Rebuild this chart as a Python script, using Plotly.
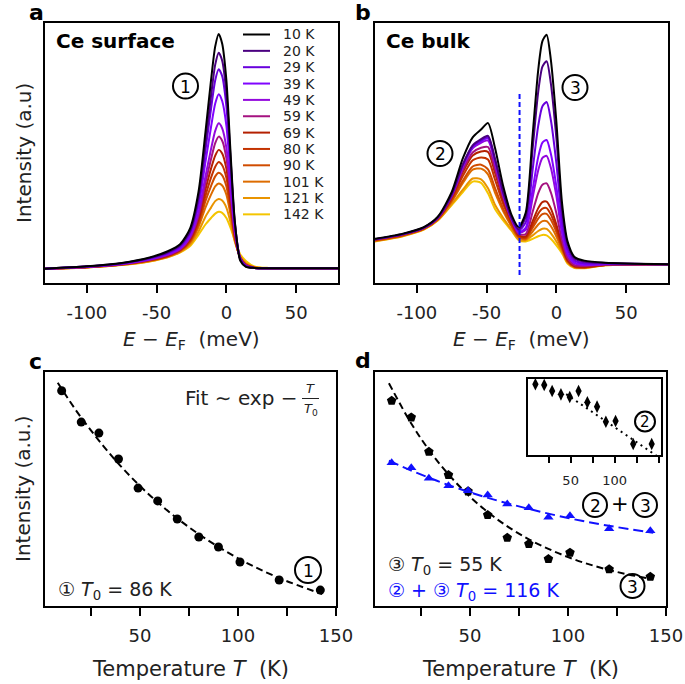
import plotly.graph_objects as go

W, H = 685, 684
FONT = "DejaVu Sans"

# ---------------- data ----------------
TEMPS = [10, 20, 29, 39, 49, 59, 69, 80, 90, 101, 121, 142]
TEMP_LABELS = ["10 K", "20 K", "29 K", "39 K", "49 K", "59 K", "69 K", "80 K", "90 K", "101 K", "121 K", "142 K"]

# panel a: Ce surface spectra (intensity, arbitrary units)
E_SURF = [-130, -100, -75, -55, -42, -33, -26, -20, -15, -11, -8, -5.5, -3, 0, 3, 6, 10, 14, 20, 30, 80]
surf_10K = [.055, .064, .077, .098, .122, .150, .210, .350, .580, .780, .910, .958, .920, .780, .500, .240, .085, .062, .058, .057, .057]
surf_20K = [.055, .064, .076, .096, .118, .145, .200, .330, .540, .720, .840, .886, .855, .730, .480, .235, .090, .064, .058, .057, .057]
surf_29K = [.055, .063, .075, .094, .115, .141, .195, .315, .510, .670, .780, .822, .795, .680, .455, .230, .092, .065, .058, .057, .057]
surf_39K = [.055, .063, .074, .092, .112, .137, .188, .295, .465, .600, .690, .726, .700, .605, .410, .215, .093, .066, .058, .057, .057]
surf_49K = [.055, .062, .073, .090, .109, .132, .178, .270, .410, .515, .585, .614, .595, .520, .360, .200, .093, .067, .058, .057, .057]
surf_59K = [.055, .062, .072, .089, .107, .130, .173, .258, .385, .477, .538, .563, .547, .480, .340, .193, .094, .068, .058, .057, .057]
surf_69K = [.055, .062, .072, .088, .106, .128, .168, .245, .360, .440, .490, .512, .498, .440, .318, .186, .095, .069, .059, .057, .057]
surf_80K = [.055, .061, .071, .087, .104, .126, .163, .235, .335, .405, .447, .465, .453, .405, .297, .180, .096, .070, .059, .057, .057]
surf_90K = [.055, .061, .071, .086, .103, .124, .159, .225, .315, .373, .410, .424, .414, .372, .280, .174, .097, .071, .060, .057, .057]
surf_101K = [.055, .061, .070, .085, .102, .122, .155, .215, .290, .340, .372, .383, .375, .340, .262, .168, .098, .073, .060, .057, .057]
surf_121K = [.055, .060, .070, .084, .100, .120, .148, .198, .255, .290, .315, .323, .317, .290, .233, .160, .103, .077, .061, .057, .057]
surf_142K = [.055, .060, .069, .083, .099, .118, .142, .185, .225, .250, .267, .274, .270, .250, .212, .165, .110, .085, .064, .058, .057]

# panel b: Ce bulk spectra
E_BULK = [-130, -110, -95, -85, -75, -67, -60, -54, -49, -44, -38, -32, -27, -22, -17, -13, -10, -7, -4, 0, 4, 8, 13, 20, 35, 80]
bulk_10K = [.170, .190, .215, .255, .350, .480, .560, .590, .615, .520, .370, .260, .215, .270, .570, .820, .930, .955, .860, .620, .310, .160, .100, .086, .078, .072]
bulk_20K = [.168, .188, .213, .252, .341, .457, .529, .553, .566, .478, .347, .249, .207, .255, .517, .736, .832, .853, .769, .557, .284, .149, .094, .082, .077, .072]
bulk_29K = [.168, .188, .213, .252, .340, .454, .526, .549, .561, .473, .344, .248, .202, .233, .436, .605, .680, .696, .628, .460, .244, .131, .086, .076, .075, .072]
bulk_39K = [.168, .188, .213, .252, .339, .451, .523, .545, .556, .468, .341, .247, .196, .212, .360, .485, .540, .550, .498, .371, .208, .115, .078, .071, .073, .072]
bulk_49K = [.168, .188, .212, .251, .338, .448, .518, .539, .548, .461, .338, .245, .194, .204, .329, .434, .481, .489, .444, .334, .192, .109, .075, .069, .072, .072]
bulk_59K = [.167, .187, .212, .250, .333, .436, .502, .520, .523, .440, .326, .240, .188, .188, .274, .346, .378, .383, .349, .268, .165, .097, .069, .065, .071, .072]
bulk_69K = [.166, .186, .211, .249, .330, .427, .490, .506, .504, .424, .317, .235, .184, .179, .238, .288, .311, .313, .287, .225, .148, .089, .065, .062, .070, .072]
bulk_80K = [.165, .185, .210, .247, .324, .412, .472, .483, .475, .398, .302, .229, .180, .175, .224, .267, .286, .288, .264, .210, .142, .087, .064, .061, .069, .072]
bulk_90K = [.163, .183, .208, .245, .317, .394, .448, .455, .437, .365, .284, .220, .176, .172, .213, .248, .265, .266, .244, .196, .136, .084, .062, .060, .069, .072]
bulk_101K = [.163, .183, .208, .244, .314, .385, .436, .440, .418, .348, .275, .216, .174, .168, .198, .225, .238, .238, .219, .179, .129, .081, .061, .059, .069, .072]
bulk_121K = [.161, .181, .206, .241, .304, .359, .402, .399, .364, .301, .249, .204, .167, .164, .183, .200, .209, .208, .192, .160, .121, .078, .059, .058, .068, .072]
bulk_142K = [.160, .180, .205, .240, .300, .350, .390, .385, .345, .285, .240, .200, .165, .160, .170, .180, .185, .183, .170, .145, .115, .075, .058, .057, .068, .072]

DIP_E = [-26.4, -26.4]
DIP_Y = [0.031, 0.735]

# panel c: peak 1 intensity vs T
INT_PEAK1 = [0.920, 0.786, 0.739, 0.628, 0.504, 0.449, 0.372, 0.295, 0.252, 0.188, 0.111, 0.068]
FIT1_T = [8, 20, 40, 60, 80, 100, 120, 143]
FIT1_Y = [0.954, 0.805, 0.599, 0.436, 0.307, 0.204, 0.123, 0.051]

# panel d: peak 3 and peak 2+3 intensities vs T, inset peak 2
INT_PEAK3 = [0.877, 0.806, 0.659, 0.560, 0.490, 0.389, 0.292, 0.265, 0.201, 0.228, 0.157, 0.125]
INT_PEAK23 = [0.612, 0.591, 0.546, 0.514, 0.493, 0.474, 0.436, 0.420, 0.379, 0.386, 0.330, 0.322]
INT_PEAK2 = [0.930, 0.921, 0.842, 0.798, 0.763, 0.842, 0.693, 0.636, 0.438, 0.447, 0.145, 0.145]
FIT3_T = [8.6, 20, 30, 40, 50, 60, 70, 80, 90, 100, 110, 120, 130, 143.5]
FIT3_Y = [0.952, 0.780, 0.656, 0.553, 0.467, 0.395, 0.335, 0.285, 0.244, 0.209, 0.180, 0.156, 0.136, 0.114]
FIT23_T = [8.6, 20, 40, 60, 80, 100, 120, 143.5]
FIT23_Y = [0.621, 0.579, 0.514, 0.460, 0.415, 0.376, 0.344, 0.313]
FIT2_T = [45, 150]
FIT2_Y = [0.80, -0.03]

SURF = [surf_10K, surf_20K, surf_29K, surf_39K, surf_49K, surf_59K, surf_69K, surf_80K, surf_90K, surf_101K, surf_121K, surf_142K]
BULK = [bulk_10K, bulk_20K, bulk_29K, bulk_39K, bulk_49K, bulk_59K, bulk_69K, bulk_80K, bulk_90K, bulk_101K, bulk_121K, bulk_142K]

# tick definitions
E_TICKS = [-100, -50, 0, 50]
E_TEXT = ["-100", "-50", "0", "50"]
T_TICKS = [50, 100, 150]
T_TEXT = ["50", "100", "150"]
T_MINOR = [25, 75, 125]
T_TICKS_IN = [50, 100]
T_TEXT_IN = ["50", "100"]
T_MINOR_IN = [25, 75, 125, 150]

# ---------------- style ----------------
COLORS = ["#000000", "#4a0080", "#6801dd", "#8004ff", "#9309dd", "#a51280",
          "#b42000", "#c33300", "#d04c00", "#dd6c00", "#e99400", "#f4c500"]
BLUE = "#1010ff"
TXT = "#222222"


def px(x):
    return x / W


def py(y):
    return 1 - y / H


fig = go.Figure()

for i in reversed(range(len(TEMPS))):
    fig.add_trace(go.Scatter(x=E_SURF, y=SURF[i], mode="lines", xaxis="x", yaxis="y",
                             line=dict(color=COLORS[i], width=2, shape="spline", smoothing=0.7),
                             showlegend=False, hoverinfo="skip"))
for i in reversed(range(len(TEMPS))):
    fig.add_trace(go.Scatter(x=E_BULK, y=BULK[i], mode="lines", xaxis="x2", yaxis="y2",
                             line=dict(color=COLORS[i], width=2, shape="spline", smoothing=0.7),
                             showlegend=False, hoverinfo="skip"))
fig.add_trace(go.Scatter(x=DIP_E, y=DIP_Y, mode="lines", xaxis="x2", yaxis="y2",
                         line=dict(color=BLUE, width=2, dash="5px,3px"), showlegend=False, hoverinfo="skip"))

# panel c
fig.add_trace(go.Scatter(x=FIT1_T, y=FIT1_Y, mode="lines", xaxis="x3", yaxis="y3",
                         line=dict(color="black", width=2, dash="7px,4px", shape="spline"), showlegend=False))
fig.add_trace(go.Scatter(x=TEMPS, y=INT_PEAK1, mode="markers", xaxis="x3", yaxis="y3",
                         marker=dict(color="black", size=9, symbol="circle"), showlegend=False))

# panel d
fig.add_trace(go.Scatter(x=FIT3_T, y=FIT3_Y, mode="lines", xaxis="x4", yaxis="y4",
                         line=dict(color="black", width=2, dash="7px,4px", shape="spline"), showlegend=False))
fig.add_trace(go.Scatter(x=TEMPS, y=INT_PEAK3, mode="markers", xaxis="x4", yaxis="y4",
                         marker=dict(color="black", size=10, symbol="pentagon"), showlegend=False))
fig.add_trace(go.Scatter(x=FIT23_T, y=FIT23_Y, mode="lines", xaxis="x4", yaxis="y4",
                         line=dict(color=BLUE, width=2, dash="10px,5px", shape="spline"), showlegend=False))
fig.add_trace(go.Scatter(x=TEMPS, y=INT_PEAK23, mode="markers", xaxis="x4", yaxis="y4",
                         marker=dict(color=BLUE, size=9, symbol="triangle-up"), showlegend=False))

# inset
fig.add_trace(go.Scatter(x=FIT2_T, y=FIT2_Y, mode="lines", xaxis="x5", yaxis="y5",
                         line=dict(color="black", width=2, dash="2px,4px"), showlegend=False))
fig.add_trace(go.Scatter(x=TEMPS, y=INT_PEAK2, mode="markers", xaxis="x5", yaxis="y5",
                         marker=dict(color="black", size=9, symbol="diamond-tall"), showlegend=False))

frame = dict(showline=True, linecolor="black", linewidth=2, mirror=True, showgrid=False,
             zeroline=False, tickcolor="black", tickwidth=1.5)


def xax(dom, rng, vals, texts, anchor, size=18, ticklen=8, standoff=4, minor=None):
    d = dict(frame)
    d.update(domain=[px(dom[0]), px(dom[1])], range=rng, tickmode="array", tickvals=vals, ticktext=texts,
             ticks="outside", ticklen=ticklen, anchor=anchor, ticklabelstandoff=standoff,
             tickfont=dict(size=size, color=TXT, family=FONT))
    if minor is not None:
        d["minor"] = dict(tickmode="array", tickvals=minor, ticks="outside", ticklen=ticklen,
                          tickwidth=1.5, tickcolor="black", showgrid=False)
    return d


def yax(dom, anchor, rng=(0, 1)):
    d = dict(frame)
    d.update(domain=[py(dom[1]), py(dom[0])], range=list(rng), showticklabels=False,
             ticks="", anchor=anchor)
    return d


fig.update_layout(
    width=W, height=H, margin=dict(l=0, r=0, t=0, b=0),
    paper_bgcolor="white", plot_bgcolor="white", template="none",
    font=dict(family=FONT, color=TXT), showlegend=False,
    xaxis=xax((45, 338), [-130, 80], E_TICKS, E_TEXT, "y"),
    yaxis=yax((23, 283), "x"),
    xaxis2=xax((375, 668), [-130, 80], E_TICKS, E_TEXT, "y2"),
    yaxis2=yax((23, 283), "x2"),
    xaxis3=xax((45, 336), [1.5, 150], T_TICKS, T_TEXT, "y3", minor=T_MINOR),
    yaxis3=yax((372, 606), "x3"),
    xaxis4=xax((375, 666), [1.5, 150], T_TICKS, T_TEXT, "y4", minor=T_MINOR),
    yaxis4=yax((372, 606), "x4"),
    xaxis5=xax((528, 660.5), [1.6, 152], T_TICKS_IN, T_TEXT_IN, "y5", size=13, ticklen=6,
               standoff=6, minor=T_MINOR_IN),
    yaxis5=yax((379, 455), "x5"),
)

annotations = []
shapes = []


def text(s, x, y, size=19, color=TXT, xanchor="center", yanchor="middle", bold=False, angle=0):
    if bold:
        s = "<b>" + s + "</b>"
    annotations.append(dict(text=s, x=px(x), y=py(y), xref="paper", yref="paper", showarrow=False,
                            xanchor=xanchor, yanchor=yanchor, textangle=angle, borderpad=0,
                            font=dict(size=size, color=color, family=FONT)))


def circled(num, cx, cy, d=25, lw=2, size=17, color="black"):
    r = d / 2
    shapes.append(dict(type="circle", xref="paper", yref="paper", x0=px(cx - r), x1=px(cx + r),
                       y0=py(cy + r), y1=py(cy - r), line=dict(color=color, width=lw)))
    text(num, cx, cy + 0.5, size=size, color=color)


# panel labels
text("a", 36, 13, size=22, color="black", bold=True)
text("b", 363, 12, size=22, color="black", bold=True)
text("c", 35, 361, size=22, color="black", bold=True)
text("d", 363, 360, size=22, color="black", bold=True)

# axis titles
text("<i>E</i> − <i>E</i><sub>F</sub>\u00a0 (meV)", 191.5, 340, size=20)
text("<i>E</i> − <i>E</i><sub>F</sub>\u00a0 (meV)", 521.5, 340, size=20)
text("Temperature <i>T</i>\u00a0 (K)", 190.5, 669, size=21)
text("Temperature <i>T</i>\u00a0 (K)", 520.5, 669, size=21)
text("Intensity (a.u)", 24, 153, size=20, angle=-90)
text("Intensity (a.u.)", 23, 489, size=20, angle=-90)

# panel titles
text("Ce surface", 55, 41, size=20, color="black", xanchor="left", bold=True)
text("Ce bulk", 385, 41, size=20, color="black", xanchor="left", bold=True)

# legend (panel a)
for i, lab in enumerate(TEMP_LABELS):
    yy = 34.5 + 16.35 * i
    shapes.append(dict(type="line", xref="paper", yref="paper", x0=px(243), x1=px(270),
                       y0=py(yy), y1=py(yy), line=dict(color=COLORS[i], width=2)))
    text(lab, 282, yy, size=14, xanchor="left")

# circled labels
circled("1", 185.5, 86)
circled("3", 575, 87.5)
circled("2", 440, 153.5)
circled("1", 308, 570, d=26)
circled("2", 595, 505, d=24)
text("+", 619.5, 504, size=21, color="black")
circled("3", 645, 505, d=24)
circled("3", 632.5, 586, d=24)
circled("2", 645, 421.5, d=20, size=15)

# fit formula
text("Fit ∼ exp −", 299, 398, size=20, xanchor="right")
text("<i>T</i>", 310, 388, size=13)
text("<i>T</i><sub>0</sub>", 311, 409, size=13)
shapes.append(dict(type="line", xref="paper", yref="paper", x0=px(302), x1=px(319),
                   y0=py(398.5), y1=py(398.5), line=dict(color=TXT, width=1)))

text("① <i>T</i><sub>0</sub> = 86 K", 57, 590, size=19, xanchor="left")
text("③ <i>T</i><sub>0</sub> = 55 K", 387, 565, size=19, xanchor="left")
text("② + ③ <i>T</i><sub>0</sub> = 116 K", 387, 591, size=19, xanchor="left", color=BLUE)

fig.update_layout(annotations=annotations, shapes=shapes)
fig.write_html("out.html")
